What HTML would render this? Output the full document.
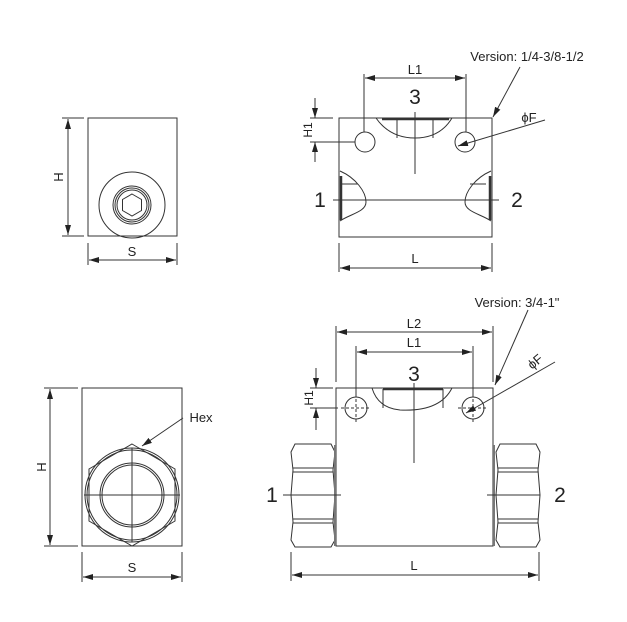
<!DOCTYPE html>
<html><head><meta charset="utf-8"><style>
html,body{margin:0;padding:0;background:#fff;width:627px;height:622px;overflow:hidden}
svg{display:block}
text{font-family:"Liberation Sans",sans-serif;fill:#222}
</style></head><body>
<svg width="627" height="622" viewBox="0 0 627 622" xmlns="http://www.w3.org/2000/svg">
<defs>
<marker id="a" viewBox="0 0 10 6" refX="10" refY="3" markerWidth="10" markerHeight="6" orient="auto-start-reverse" markerUnits="userSpaceOnUse">
<path d="M0,0 L10,3 L0,6 z" fill="#222"/></marker>
</defs>
<g fill="none" stroke="#333" stroke-width="1">
<!-- top-left view -->
<rect x="88" y="118" width="89" height="118"/>
<circle cx="132" cy="205" r="33"/>
<circle cx="132" cy="205" r="19"/>
<circle cx="132" cy="205" r="17"/>
<circle cx="132" cy="205" r="15"/>
<polygon points="132,194 141.5,199.5 141.5,210.5 132,216 122.5,210.5 122.5,199.5"/>
<line x1="62" y1="118" x2="84" y2="118"/><line x1="62" y1="236" x2="84" y2="236"/>
<line x1="68" y1="119" x2="68" y2="235" marker-start="url(#a)" marker-end="url(#a)"/>
<line x1="88" y1="243" x2="88" y2="265"/><line x1="177" y1="243" x2="177" y2="265"/>
<line x1="89" y1="260" x2="176" y2="260" marker-start="url(#a)" marker-end="url(#a)"/>

<!-- top-right view -->
<rect x="339" y="118" width="153" height="119"/>
<path d="M376,118 Q390,138 415,138 Q440,138 452,118"/>
<line x1="382" y1="119" x2="449" y2="119" stroke-width="2.5"/>
<line x1="397" y1="119" x2="397" y2="138"/><line x1="433" y1="119" x2="433" y2="138"/>
<circle cx="365" cy="142" r="10"/><circle cx="465" cy="142" r="10"/>
<line x1="415" y1="112" x2="415" y2="174"/>
<line x1="364" y1="74" x2="364" y2="132"/><line x1="466" y1="74" x2="466" y2="132"/>
<line x1="365" y1="78" x2="465" y2="78" marker-start="url(#a)" marker-end="url(#a)"/>
<path d="M340,171 C356,178 366,192 366,202 C366,212 350,214 340,221"/>
<line x1="340" y1="184" x2="358" y2="184"/>
<line x1="341" y1="176" x2="341" y2="220" stroke-width="2.5"/>
<path d="M491,171 C475,178 465,192 465,202 C465,212 481,214 491,221"/>
<line x1="470" y1="184" x2="486" y2="184"/>
<line x1="490" y1="176" x2="490" y2="220" stroke-width="2.5"/>
<line x1="333" y1="200" x2="499" y2="200"/>
<line x1="310" y1="118" x2="333" y2="118"/><line x1="310" y1="142" x2="355" y2="142"/>
<line x1="315" y1="98" x2="315" y2="118" marker-end="url(#a)"/>
<line x1="315" y1="162" x2="315" y2="142" marker-end="url(#a)"/>
<line x1="339" y1="243" x2="339" y2="272"/><line x1="492" y1="243" x2="492" y2="272"/>
<line x1="340" y1="268" x2="491" y2="268" marker-start="url(#a)" marker-end="url(#a)"/>
<line x1="520" y1="67" x2="493" y2="117" marker-end="url(#a)"/>
<line x1="545" y1="120" x2="458" y2="146" marker-end="url(#a)"/>

<!-- bottom-left view -->
<rect x="82" y="388" width="100" height="158"/>
<polygon points="132,444 175,469 175,521 132,546 89,521 89,469"/>
<circle cx="132" cy="495" r="47"/>
<circle cx="132" cy="495" r="45"/>
<circle cx="132" cy="495" r="32"/>
<circle cx="132" cy="495" r="30"/>
<line x1="84" y1="495" x2="180" y2="495"/><line x1="132" y1="448" x2="132" y2="542"/>
<line x1="44" y1="388" x2="78" y2="388"/><line x1="44" y1="546" x2="78" y2="546"/>
<line x1="50" y1="389" x2="50" y2="545" marker-start="url(#a)" marker-end="url(#a)"/>
<line x1="82" y1="552" x2="82" y2="582"/><line x1="182" y1="552" x2="182" y2="582"/>
<line x1="83" y1="577" x2="181" y2="577" marker-start="url(#a)" marker-end="url(#a)"/>
<line x1="183" y1="418" x2="142" y2="446" marker-end="url(#a)"/>

<!-- bottom-right view -->
<rect x="336" y="388" width="157" height="158"/>
<path d="M372,388 Q378,408 400,410 Q440,412 452,388"/>
<line x1="383" y1="389" x2="443" y2="389" stroke-width="2.5"/>
<line x1="383" y1="389" x2="383" y2="408"/><line x1="443" y1="389" x2="443" y2="408"/>
<circle cx="356" cy="408" r="11"/><circle cx="473" cy="408" r="11"/>
<g stroke-dasharray="3,2"><line x1="341" y1="408" x2="371" y2="408"/><line x1="356" y1="394" x2="356" y2="422"/>
<line x1="458" y1="408" x2="488" y2="408"/><line x1="473" y1="394" x2="473" y2="422"/></g>
<line x1="414" y1="383" x2="414" y2="463"/>
<line x1="336" y1="326" x2="336" y2="382"/><line x1="493" y1="326" x2="493" y2="382"/>
<line x1="337" y1="332" x2="492" y2="332" marker-start="url(#a)" marker-end="url(#a)"/>
<line x1="356" y1="346" x2="356" y2="395"/><line x1="473" y1="346" x2="473" y2="395"/>
<line x1="357" y1="352" x2="472" y2="352" marker-start="url(#a)" marker-end="url(#a)"/>
<path d="M295,444 L331,444 L335,452 L333,470 L335,495 L333,522 L335,540 L331,547 L295,547 L291,540 L293,522 L291,495 L293,470 L291,452 Z"/>
<line x1="293" y1="468" x2="333" y2="468"/><line x1="293" y1="472" x2="333" y2="472"/>
<line x1="293" y1="519" x2="333" y2="519"/><line x1="293" y1="523" x2="333" y2="523"/>
<path d="M500,444 L536,444 L540,452 L538,470 L540,495 L538,522 L540,540 L536,547 L500,547 L496,540 L498,522 L496,495 L498,470 L496,452 Z"/>
<line x1="498" y1="468" x2="538" y2="468"/><line x1="498" y1="472" x2="538" y2="472"/>
<line x1="498" y1="519" x2="538" y2="519"/><line x1="498" y1="523" x2="538" y2="523"/>
<line x1="335" y1="445" x2="335" y2="546" stroke-width="2" stroke="#777"/>
<line x1="494" y1="445" x2="494" y2="546" stroke-width="2" stroke="#777"/>
<line x1="283" y1="495" x2="341" y2="495"/><line x1="487" y1="495" x2="540" y2="495"/>
<line x1="291" y1="552" x2="291" y2="581"/><line x1="539" y1="552" x2="539" y2="581"/>
<line x1="292" y1="575" x2="538" y2="575" marker-start="url(#a)" marker-end="url(#a)"/>
<line x1="310" y1="388" x2="333" y2="388"/><line x1="310" y1="408" x2="338" y2="408"/>
<line x1="316" y1="368" x2="316" y2="388" marker-end="url(#a)"/>
<line x1="316" y1="430" x2="316" y2="408" marker-end="url(#a)"/>
<line x1="528" y1="310" x2="495" y2="385" marker-end="url(#a)"/>
<line x1="555" y1="362" x2="466" y2="413" marker-end="url(#a)"/>
</g>
<g font-size="13" text-anchor="middle">
<text transform="translate(63,177) rotate(-90)">H</text>
<text x="132" y="256">S</text>
<text x="415" y="74">L1</text>
<text x="415" y="263">L</text>
<text transform="translate(312,130) rotate(-90)" font-size="12">H1</text>
<text x="527" y="61" font-size="13">Version: 1/4-3/8-1/2</text>
<text x="529" y="122">ϕF</text>
<text transform="translate(46,467) rotate(-90)">H</text>
<text x="132" y="572">S</text>
<text x="201" y="422">Hex</text>
<text x="414" y="328">L2</text>
<text x="414" y="347">L1</text>
<text x="414" y="570">L</text>
<text transform="translate(313,398) rotate(-90)" font-size="12">H1</text>
<text x="517" y="307">Version: 3/4-1"</text>
<text transform="translate(538,365) rotate(-40)">ϕF</text>
</g>
<g font-size="21" text-anchor="middle">
<text x="415" y="104">3</text>
<text x="320" y="207">1</text>
<text x="517" y="207">2</text>
<text x="414" y="381">3</text>
<text x="272" y="502">1</text>
<text x="560" y="502">2</text>
</g>
</svg>
</body></html>
